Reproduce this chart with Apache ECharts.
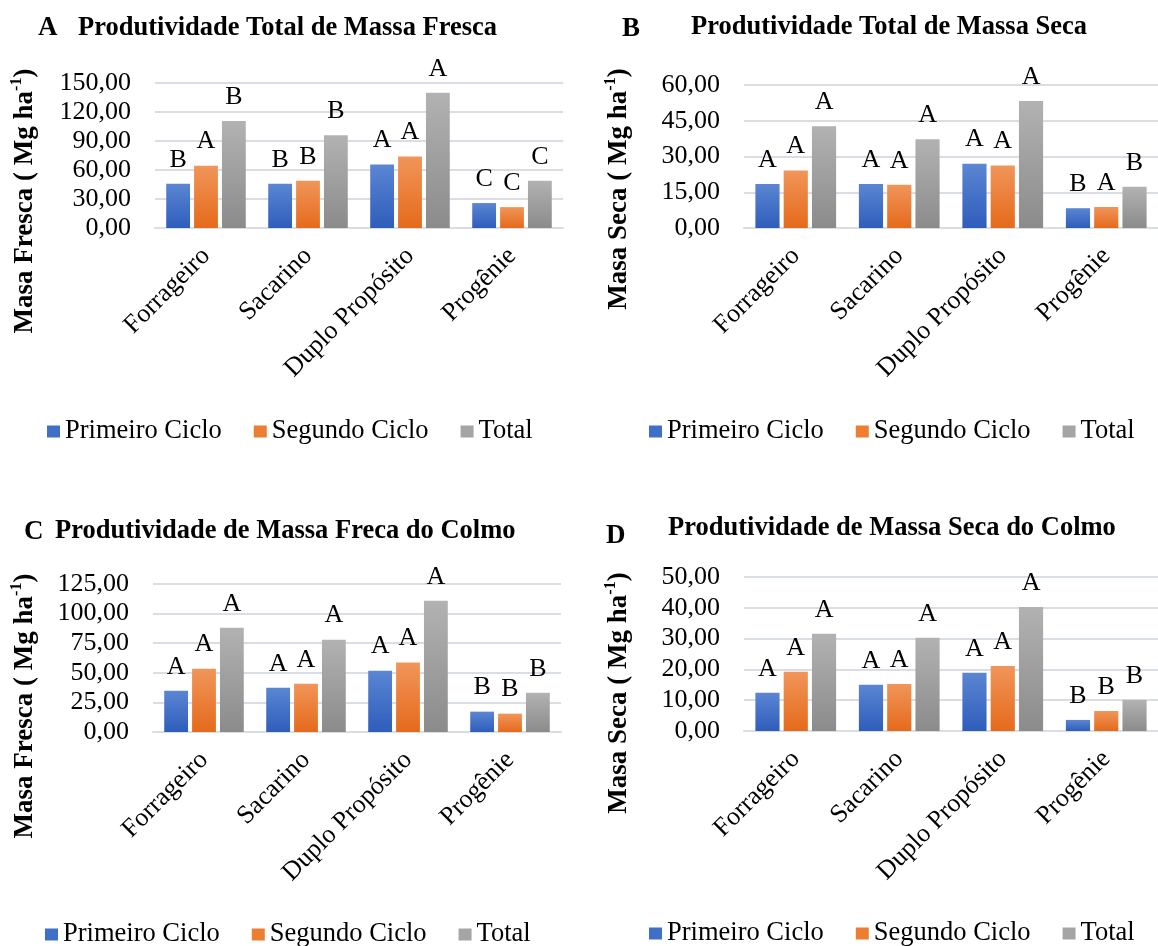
<!DOCTYPE html>
<html>
<head>
<meta charset="utf-8">
<script src="https://cdn.jsdelivr.net/npm/echarts@6/dist/echarts.min.js"></script>
<style>
html,body{margin:0;padding:0;background:#fff;}
#chart{width:1158px;height:946px;}
</style>
</head>
<body>
<div id="chart"></div>
<script>
// ---- data ----
const categories = ['Forrageiro', 'Sacarino', 'Duplo Propósito', 'Progênie'];
const seriesNames = ['Primeiro Ciclo', 'Segundo Ciclo', 'Total'];

// A: Produtividade Total de Massa Fresca
const freshTotalFirst  = [45.7, 45.7, 65.6, 25.8];
const freshTotalSecond = [64.5, 48.8, 73.9, 21.6];
const freshTotalSum    = [110.6, 95.9, 139.9, 48.8];
const freshTotalLettersFirst  = ['B', 'B', 'A', 'C'];
const freshTotalLettersSecond = ['A', 'B', 'A', 'C'];
const freshTotalLettersSum    = ['B', 'B', 'A', 'C'];

// B: Produtividade Total de Massa Seca
const dryTotalFirst  = [18.5, 18.5, 27.0, 8.3];
const dryTotalSecond = [24.1, 18.1, 26.2, 8.8];
const dryTotalSum    = [42.7, 37.2, 53.3, 17.3];
const dryTotalLettersFirst  = ['A', 'A', 'A', 'B'];
const dryTotalLettersSecond = ['A', 'A', 'A', 'A'];
const dryTotalLettersSum    = ['A', 'A', 'A', 'B'];

// C: Produtividade de Massa Freca do Colmo
const stemFreshFirst  = [34.9, 37.4, 51.8, 17.2];
const stemFreshSecond = [53.5, 40.8, 58.6, 15.5];
const stemFreshSum    = [88.1, 78.0, 110.9, 33.2];
const stemFreshLettersFirst  = ['A', 'A', 'A', 'B'];
const stemFreshLettersSecond = ['A', 'A', 'A', 'B'];
const stemFreshLettersSum    = ['A', 'A', 'A', 'B'];

// D: Produtividade de Massa Seca do Colmo
const stemDryFirst  = [12.4, 15.0, 18.9, 3.6];
const stemDrySecond = [19.2, 15.3, 21.1, 6.5];
const stemDrySum    = [31.6, 30.3, 40.3, 10.1];
const stemDryLettersFirst  = ['A', 'A', 'A', 'B'];
const stemDryLettersSecond = ['A', 'A', 'A', 'B'];
const stemDryLettersSum    = ['A', 'A', 'A', 'B'];

// axis scales (max, interval)
const yMaxes = [150, 60, 125, 50];
const yIntervals = [30, 15, 25, 10];

const panelLetters = ['A', 'B', 'C', 'D'];
const panelTitles = [
  'Produtividade Total de Massa Fresca',
  'Produtividade Total de Massa Seca',
  'Produtividade de Massa Freca do Colmo',
  'Produtividade de Massa Seca do Colmo'
];
const yNames = ['Masa Fresca ( Mg ha', 'Masa Seca ( Mg ha', 'Masa Fresca ( Mg ha', 'Masa Seca ( Mg ha'];

const panelValues = [
  [freshTotalFirst, freshTotalSecond, freshTotalSum],
  [dryTotalFirst, dryTotalSecond, dryTotalSum],
  [stemFreshFirst, stemFreshSecond, stemFreshSum],
  [stemDryFirst, stemDrySecond, stemDrySum]
];
const panelSigLetters = [
  [freshTotalLettersFirst, freshTotalLettersSecond, freshTotalLettersSum],
  [dryTotalLettersFirst, dryTotalLettersSecond, dryTotalLettersSum],
  [stemFreshLettersFirst, stemFreshLettersSecond, stemFreshLettersSum],
  [stemDryLettersFirst, stemDryLettersSecond, stemDryLettersSum]
];

// ---- layout / style ----
const FONT = "Liberation Serif, Tinos, Times New Roman, Nimbus Roman, DejaVu Serif, serif";
const FS = 26;
const grids = [
  {left: 155, top: 83, width: 408, height: 145},
  {left: 744, top: 85, width: 422, height: 143},
  {left: 153, top: 584, width: 408, height: 148},
  {left: 744, top: 577, width: 422, height: 154}
];
const legendPos = [
  {left: 47, top: 418},
  {left: 649, top: 418},
  {left: 45, top: 921},
  {left: 649, top: 920}
];
const titlePos = [
  {lx: 38, ly: 28, tx: 78, ty: 28},
  {lx: 622, ly: 29, tx: 691, ty: 27},
  {lx: 24, ly: 532, tx: 55, ty: 531},
  {lx: 606, ly: 536, tx: 668, ty: 528}
];
const yNamePos = [
  {x: 25, y: 201},
  {x: 619, y: 189},
  {x: 25, y: 706},
  {x: 619, y: 693}
];

function grad(top, bottom) {
  return new echarts.graphic.LinearGradient(0, 0, 0, 1, [
    {offset: 0, color: top}, {offset: 1, color: bottom}
  ]);
}
const colorsTop = ['#5b86d3', '#f1955a', '#b2b2b2'];
const colorsBottom = ['#2e5dbb', '#e56a1b', '#8b8b8b'];
const legendColors = ['#3f6fc6', '#ed7d31', '#a5a5a5'];

const option = {
  animation: false,
  backgroundColor: '#ffffff',
  grid: grids.map(g => Object.assign({containLabel: false}, g)),
  xAxis: grids.map((g, i) => ({
    type: 'category',
    gridIndex: i,
    data: categories,
    axisTick: {show: false},
    axisLine: {show: true, lineStyle: {color: '#d9dde4', width: 2}},
    axisLabel: {
      rotate: 45, margin: 24, interval: 0,
      fontFamily: FONT, fontSize: FS, color: '#000'
    }
  })),
  yAxis: grids.map((g, i) => ({
    type: 'value',
    gridIndex: i,
    min: 0,
    max: yMaxes[i],
    interval: yIntervals[i],
    axisLine: {show: false},
    axisTick: {show: false},
    splitLine: {lineStyle: {color: '#d9dde4', width: 2}},
    axisLabel: {
      margin: 24,
      fontFamily: FONT, fontSize: FS, color: '#000',
      formatter: v => v.toFixed(2).replace('.', ',')
    }
  })),
  legend: legendPos.map((p, i) => ({
    left: p.left, top: p.top,
    padding: 0,
    itemWidth: 13, itemHeight: 12,
    itemGap: 32,
    icon: 'rect',
    selectedMode: false,
    textStyle: {fontFamily: FONT, fontSize: 26.5, color: '#000'},
    data: seriesNames.map((n, k) => ({name: n, itemStyle: {color: legendColors[k]}}))
  })),
  series: [],
  graphic: []
};

for (let i = 0; i < 4; i++) {
  for (let k = 0; k < 3; k++) {
    const letters = panelSigLetters[i][k];
    option.series.push({
      type: 'bar',
      name: seriesNames[k],
      xAxisIndex: i,
      yAxisIndex: i,
      data: panelValues[i][k],
      barGap: '17%',
      barCategoryGap: '22%',
      itemStyle: {color: grad(colorsTop[k], colorsBottom[k])},
      label: {
        show: true, position: 'top', distance: 11,
        fontFamily: FONT, fontSize: FS, color: '#000',
        formatter: p => letters[p.dataIndex]
      }
    });
  }
  const tp = titlePos[i];
  option.graphic.push({
    type: 'text', x: tp.lx, y: tp.ly,
    style: {text: panelLetters[i], font: 'bold 27px ' + FONT, fill: '#000', verticalAlign: 'middle', align: 'left'}
  });
  option.graphic.push({
    type: 'text', x: tp.tx, y: tp.ty,
    style: {text: panelTitles[i], font: 'bold 26.5px ' + FONT, fill: '#000', verticalAlign: 'middle', align: 'left'}
  });
  const yp = yNamePos[i];
  option.graphic.push({
    type: 'text', x: yp.x, y: yp.y, rotation: Math.PI / 2,
    style: {
      text: '{n|' + yNames[i] + '}{s|-1}{n|)}',
      align: 'center', verticalAlign: 'middle',
      rich: {
        n: {font: 'bold 27px ' + FONT, fill: '#000', lineHeight: 32},
        s: {font: 'bold 16px ' + FONT, fill: '#000', verticalAlign: 'top', lineHeight: 32}
      }
    }
  });
}

const chart = echarts.init(document.getElementById('chart'), null, {renderer: 'canvas'});
chart.setOption(option);
</script>
</body>
</html>
